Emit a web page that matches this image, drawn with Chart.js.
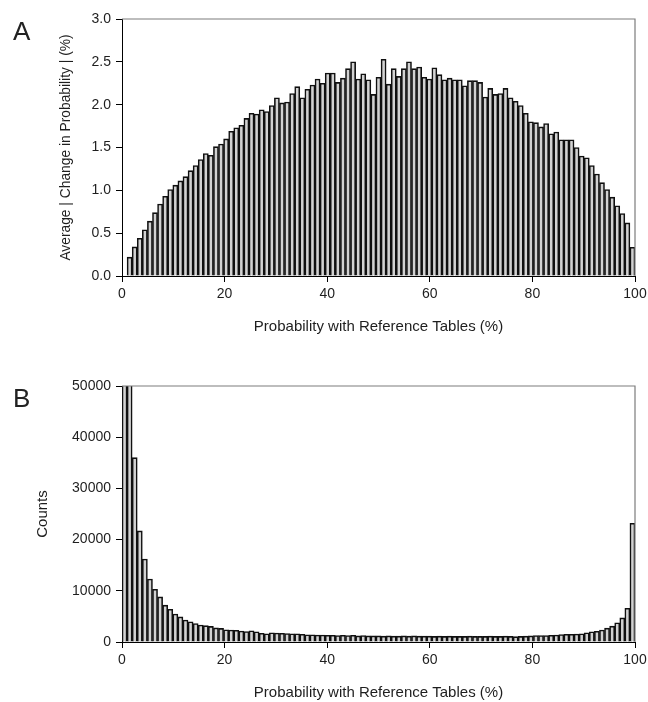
<!DOCTYPE html>
<html>
<head>
<meta charset="utf-8">
<script src="https://cdn.jsdelivr.net/npm/chart.js@4.4.1/dist/chart.umd.min.js"></script>
<style>
    body { margin: 0; background: #fff; width: 648px; height: 702px; position: relative; overflow: hidden;
           font-family: "Liberation Sans", Arial, sans-serif; }
    .panel { position: absolute; left: 0; width: 648px; }
    .tag { position: absolute; font-size: 26px; color: #222; line-height: 1; }
</style>
</head>
<body>
<div class="panel" style="top:0;height:345px"><canvas id="chartA"></canvas></div>
<div class="panel" style="top:345px;height:357px"><canvas id="chartB"></canvas></div>
<div class="tag" style="left:13px;top:18px">A</div>
<div class="tag" style="left:13px;top:385px">B</div>
<script>
/* ===================================================
   Two histograms: |change in probability| and counts
   =================================================== */

// bins 0..100 (%)
const binLabels = Array.from({ length: 101 }, (_, i) => String(i));

// Panel A – average |change in probability| (%) per bin
const avgChange = [
    0,
    0.22, 0.34, 0.44, 0.54, 0.64, 0.74, 0.84, 0.93, 1.01, 1.06,
    1.11, 1.16, 1.23, 1.29, 1.36, 1.43, 1.41, 1.51, 1.54, 1.60,
    1.69, 1.73, 1.76, 1.84, 1.90, 1.89, 1.94, 1.92, 1.99, 2.08,
    2.02, 2.03, 2.13, 2.21, 2.08, 2.18, 2.23, 2.30, 2.25, 2.37,
    2.37, 2.26, 2.31, 2.42, 2.50, 2.30, 2.36, 2.29, 2.12, 2.32,
    2.53, 2.24, 2.42, 2.33, 2.42, 2.50, 2.42, 2.44, 2.32, 2.30,
    2.43, 2.35, 2.29, 2.31, 2.29, 2.29, 2.22, 2.28, 2.28, 2.26,
    2.09, 2.19, 2.12, 2.13, 2.19, 2.08, 2.04, 1.99, 1.90, 1.80,
    1.79, 1.74, 1.78, 1.66, 1.68, 1.59, 1.59, 1.59, 1.50, 1.40,
    1.38, 1.29, 1.19, 1.09, 1.01, 0.92, 0.82, 0.73, 0.62, 0.335
];

// Panel B – counts per bin (first two run off the top of the axis)
const counts = [
    80000,
    56000, 36000, 21700, 16200, 12300, 10300, 8800, 7200, 6400, 5450,
    4900, 4300, 3950, 3600, 3300, 3200, 3050, 2750, 2650, 2400,
    2350, 2300, 2150, 2050, 2200, 2000, 1700, 1600, 1800, 1750,
    1700, 1650, 1600, 1600, 1500, 1400, 1400, 1350, 1350, 1300,
    1300, 1250, 1300, 1250, 1300, 1200, 1250, 1200, 1200, 1200,
    1150, 1200, 1150, 1150, 1200, 1150, 1200, 1150, 1150, 1150,
    1100, 1150, 1100, 1150, 1100, 1100, 1100, 1150, 1100, 1100,
    1100, 1150, 1100, 1100, 1150, 1100, 1050, 1100, 1150, 1200,
    1250, 1250, 1250, 1300, 1350, 1450, 1500, 1500, 1550, 1600,
    1800, 2000, 2100, 2350, 2700, 3100, 3750, 4700, 6600, 23200
];

const xTitle = 'Probability with Reference Tables (%)';
const barFill = '#d2d2d2';
const barEdge = '#101010';
const inkColor = '#1e1e1e';
const fontFamily = '"Liberation Sans", Arial, sans-serif';
const tickFont = { family: fontFamily, size: 14 };

// gray top/right frame of the plot box
const frameLines = {
    id: 'frameLines',
    afterDatasetsDraw(chart) {
        const { ctx, chartArea: a } = chart;
        ctx.save();
        ctx.strokeStyle = '#7c7c7c';
        ctx.lineWidth = 1.2;
        ctx.beginPath();
        ctx.moveTo(a.left, a.top);
        ctx.lineTo(a.right, a.top);
        ctx.lineTo(a.right, a.bottom);
        ctx.stroke();
        ctx.restore();
    }
};

function makeHistogram(canvasId, values, cfg) {
    return new Chart(document.getElementById(canvasId), {
        type: 'bar',
        data: {
            labels: binLabels,
            datasets: [{
                data: values,
                backgroundColor: barFill,
                borderColor: barEdge,
                borderWidth: 1.6,
                barPercentage: 1,
                categoryPercentage: 1,
                clip: 0
            }]
        },
        options: {
            responsive: true,
            maintainAspectRatio: false,
            animation: false,
            layout: { padding: { top: cfg.padTop, right: 13, left: 0, bottom: 0 } },
            plugins: { legend: { display: false }, tooltip: { enabled: false } },
            scales: {
                x: { type: 'category', display: false, offset: true },
                pct: {
                    type: 'linear', axis: 'x', position: 'bottom', min: 0, max: 100, offset: false,
                    ticks: { stepSize: 20, color: inkColor, font: tickFont, padding: 4, maxRotation: 0 },
                    grid: { drawOnChartArea: false, offset: false, tickLength: 6, color: '#000' },
                    border: { color: '#000', width: 1 },
                    title: { display: true, text: xTitle, color: inkColor, font: { family: fontFamily, size: 15 },
                             padding: { top: 0, bottom: cfg.xTitlePad } },
                    afterFit(s) { s.height = cfg.xAxisH; s.paddingLeft = 0; s.paddingRight = 0; }
                },
                y: {
                    min: 0, max: cfg.yMax,
                    ticks: { stepSize: cfg.yStep, color: inkColor, font: tickFont, padding: 5,
                             callback: cfg.yFormat },
                    grid: { drawOnChartArea: false, tickLength: 6, color: '#000' },
                    border: { color: '#000', width: 1 },
                    title: { display: true, text: cfg.yTitle, color: inkColor,
                             font: { family: fontFamily, size: cfg.yTitleSize },
                             padding: { top: cfg.yTitlePad, bottom: 0 } },
                    afterFit(s) { s.width = 122; }
                }
            }
        },
        plugins: [frameLines]
    });
}

makeHistogram('chartA', avgChange, {
    padTop: 19, xAxisH: 69, xTitlePad: 9,
    yMax: 3, yStep: 0.5, yFormat: v => Number(v).toFixed(1),
    yTitle: 'Average | Change in Probability | (%)', yTitleSize: 13.8, yTitlePad: 58
});

makeHistogram('chartB', counts, {
    padTop: 41, xAxisH: 60, xTitlePad: 0,
    yMax: 50000, yStep: 10000, yFormat: v => String(v),
    yTitle: 'Counts', yTitleSize: 15, yTitlePad: 34
});
</script>
</body>
</html>
